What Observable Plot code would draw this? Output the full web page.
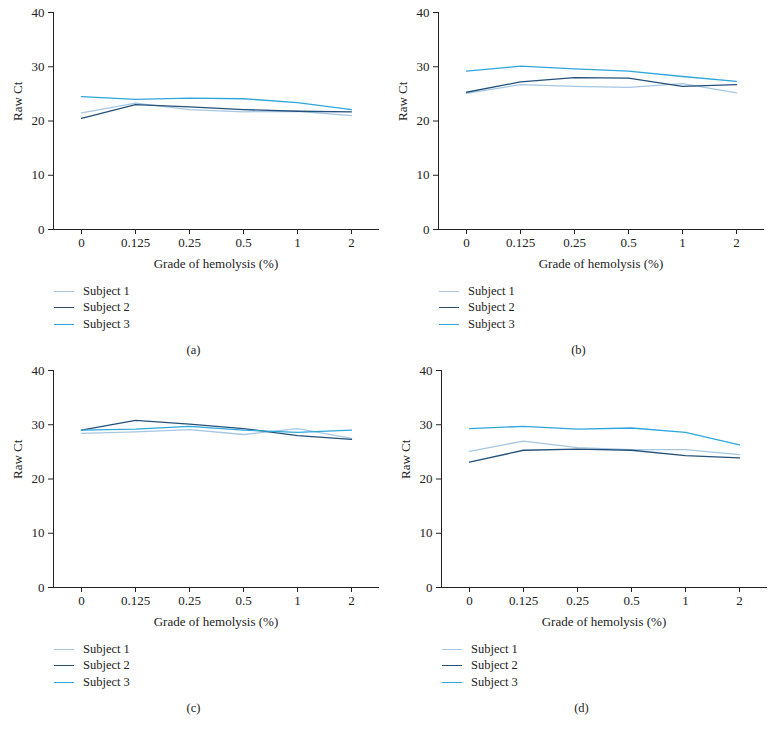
<!DOCTYPE html>
<html>
<head>
<meta charset="utf-8">
<script src="https://cdn.jsdelivr.net/npm/d3@7"></script>
<script src="https://cdn.jsdelivr.net/npm/@observablehq/plot@0.6"></script>
<style>
  body { margin: 0; background: #fff; font-family: "Liberation Serif", "DejaVu Serif", serif; color: #222; }
  #root { position: relative; width: 775px; height: 733px; }
  .panel { position: absolute; width: 387px; }
  .legend { padding-left: 54px; margin-top: 8px; font-size: 12.5px; }
  .legend .item { display: flex; align-items: center; height: 16.5px; }
  .legend .sw { width: 20px; height: 0; border-top: 1.4px solid; margin-right: 9px; }
  .caption { text-align: center; font-size: 12.5px; margin-top: 9px; height: 16px; line-height: 16px; }
</style>
</head>
<body>
<div id="root"></div>
<script>
const grades = ["0", "0.125", "0.25", "0.5", "1", "2"];
const subjects = ["Subject 1", "Subject 2", "Subject 3"];
const colors = ["#a6c7e3", "#24507a", "#2fa6dc"];
const panelLabels = ["(a)", "(b)", "(c)", "(d)"];

// Raw Ct values per panel, per subject (order of grades)
const panelA_s1 = [21.5, 23.3, 22.1, 21.7, 21.8, 21.0];
const panelA_s2 = [20.5, 23.0, 22.6, 22.1, 21.8, 21.7];
const panelA_s3 = [24.5, 24.0, 24.2, 24.1, 23.4, 22.1];

const panelB_s1 = [25.1, 26.7, 26.4, 26.2, 26.9, 25.2];
const panelB_s2 = [25.3, 27.2, 28.0, 27.9, 26.4, 26.7];
const panelB_s3 = [29.2, 30.1, 29.6, 29.2, 28.2, 27.3];

const panelC_s1 = [28.4, 28.7, 29.1, 28.2, 29.3, 27.5];
const panelC_s2 = [29.0, 30.8, 30.1, 29.3, 28.0, 27.3];
const panelC_s3 = [29.0, 29.2, 29.7, 29.0, 28.6, 29.0];

const panelD_s1 = [25.1, 27.0, 25.8, 25.4, 25.4, 24.5];
const panelD_s2 = [23.1, 25.3, 25.5, 25.3, 24.3, 23.9];
const panelD_s3 = [29.3, 29.7, 29.2, 29.4, 28.6, 26.3];

const yTicks = [0, 10, 20, 30, 40];
const xLabel = "Grade of hemolysis (%)";
const yLabel = "Raw Ct";

const panels = [
  [panelA_s1, panelA_s2, panelA_s3],
  [panelB_s1, panelB_s2, panelB_s3],
  [panelC_s1, panelC_s2, panelC_s3],
  [panelD_s1, panelD_s2, panelD_s3]
];
const positions = [[0, 0], [385, 0], [0, 358], [388, 358]];

const root = document.getElementById("root");

panels.forEach((series, i) => {
  const rows = [];
  series.forEach((vals, s) => {
    vals.forEach((v, g) => rows.push({grade: grades[g], value: v, subject: subjects[s]}));
  });
  const chart = Plot.plot({
    width: 387,
    height: 275,
    marginLeft: 53,
    marginRight: 9,
    marginTop: 12,
    marginBottom: 46,
    style: {fontFamily: "Liberation Serif, DejaVu Serif, serif", fontSize: "13px", color: "#222", background: "#fff"},
    x: {type: "point", domain: grades, padding: 0.48, label: xLabel, labelAnchor: "center", labelOffset: 38, tickSize: 5, tickPadding: 3, line: true},
    y: {domain: [0, 40], ticks: yTicks, label: null, tickSize: 5, tickPadding: 4, line: true},
    color: {domain: subjects, range: colors},
    marks: [
      Plot.text([yLabel], {text: d => d, frameAnchor: "left", rotate: -90, dx: -36, fontSize: 13}),
      Plot.line(rows, {x: "grade", y: "value", z: "subject", stroke: "subject", strokeWidth: 1.3})
    ]
  });
  const div = document.createElement("div");
  div.className = "panel";
  div.style.left = positions[i][0] + "px";
  div.style.top = positions[i][1] + "px";
  div.appendChild(chart);
  const leg = document.createElement("div");
  leg.className = "legend";
  subjects.forEach((s, k) => {
    const it = document.createElement("div");
    it.className = "item";
    const sw = document.createElement("span");
    sw.className = "sw";
    sw.style.borderTopColor = colors[k];
    const tx = document.createElement("span");
    tx.textContent = s;
    it.appendChild(sw);
    it.appendChild(tx);
    leg.appendChild(it);
  });
  div.appendChild(leg);
  const cap = document.createElement("div");
  cap.className = "caption";
  cap.textContent = panelLabels[i];
  div.appendChild(cap);
  root.appendChild(div);
});
</script>
</body>
</html>
